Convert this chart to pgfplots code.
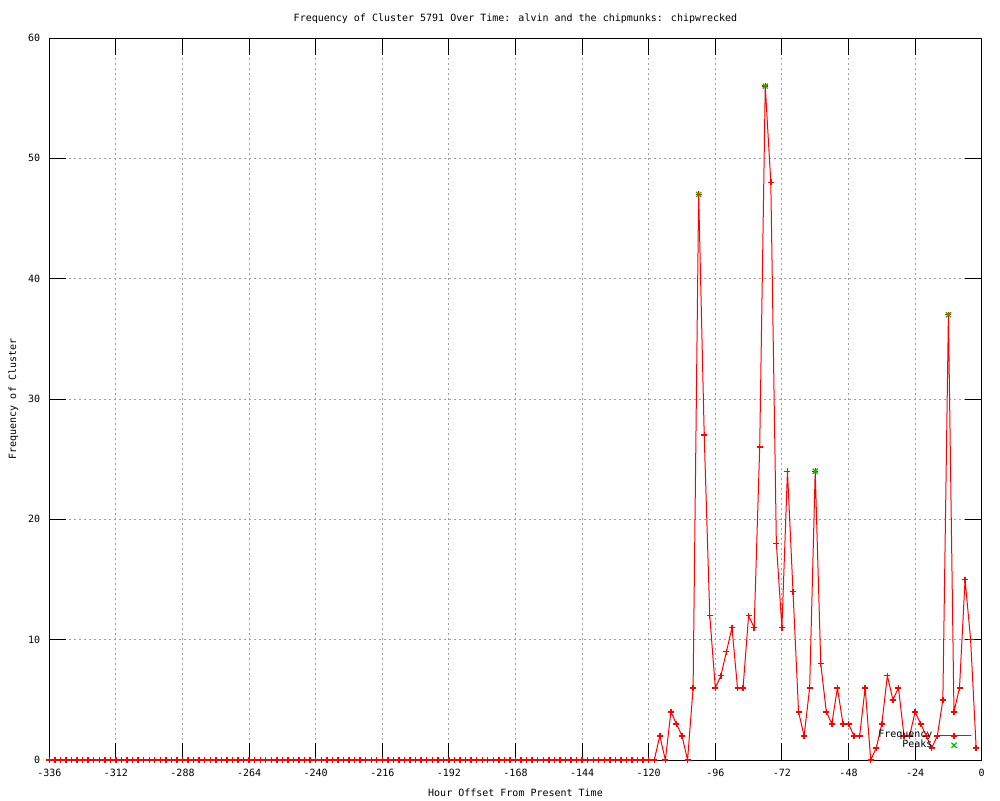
\documentclass[border=0pt]{standalone}
\usepackage{fontspec}
\setmainfont{DejaVu Sans Mono}
\usepackage{pgfplots}
\usepackage{pgfplotstable}
\pgfplotsset{compat=1.18}
\definecolor{gpred}{RGB}{255,0,0}
\definecolor{gpgreen}{RGB}{0,192,0}
\definecolor{gpgrid}{RGB}{160,160,160}

\pgfplotstableread{
x y
-336 0
-334 0
-332 0
-330 0
-328 0
-326 0
-324 0
-322 0
-320 0
-318 0
-316 0
-314 0
-312 0
-310 0
-308 0
-306 0
-304 0
-302 0
-300 0
-298 0
-296 0
-294 0
-292 0
-290 0
-288 0
-286 0
-284 0
-282 0
-280 0
-278 0
-276 0
-274 0
-272 0
-270 0
-268 0
-266 0
-264 0
-262 0
-260 0
-258 0
-256 0
-254 0
-252 0
-250 0
-248 0
-246 0
-244 0
-242 0
-240 0
-238 0
-236 0
-234 0
-232 0
-230 0
-228 0
-226 0
-224 0
-222 0
-220 0
-218 0
-216 0
-214 0
-212 0
-210 0
-208 0
-206 0
-204 0
-202 0
-200 0
-198 0
-196 0
-194 0
-192 0
-190 0
-188 0
-186 0
-184 0
-182 0
-180 0
-178 0
-176 0
-174 0
-172 0
-170 0
-168 0
-166 0
-164 0
-162 0
-160 0
-158 0
-156 0
-154 0
-152 0
-150 0
-148 0
-146 0
-144 0
-142 0
-140 0
-138 0
-136 0
-134 0
-132 0
-130 0
-128 0
-126 0
-124 0
-122 0
-120 0
-118 0
-116 2
-114 0
-112 4
-110 3
-108 2
-106 0
-104 6
-102 47
-100 27
-98 12
-96 6
-94 7
-92 9
-90 11
-88 6
-86 6
-84 12
-82 11
-80 26
-78 56
-76 48
-74 18
-72 11
-70 24
-68 14
-66 4
-64 2
-62 6
-60 24
-58 8
-56 4
-54 3
-52 6
-50 3
-48 3
-46 2
-44 2
-42 6
-40 0
-38 1
-36 3
-34 7
-32 5
-30 6
-28 2
-26 2
-24 4
-22 3
-20 2
-18 1
-16 2
-14 5
-12 37
-10 4
-8 6
-6 15
-4 10
-2 1
}\freqtable

\pgfplotstableread{
x y
-102 47
-78 56
-60 24
-12 37
}\peakstable

\begin{document}
\begin{tikzpicture}
\path[use as bounding box] (0,0) rectangle (500pt,400pt);
\begin{axis}[
  at={(24.65pt,20pt)}, anchor=south west,
  scale only axis,
  width=466.2pt, height=361pt,
  xmin=-336, xmax=0, ymin=0, ymax=60,
  xtick={-336,-312,...,0},
  ytick={0,10,...,60},
  grid=major,
  major grid style={gpgrid, line width=0.5pt, dash pattern=on 1pt off 1.5pt},
  tick align=inside,
  major tick length=8.3pt,
  tick style={black, line width=0.5pt},
  axis line style={black, line width=0.5pt},
  font=\fontsize{5}{6}\selectfont,
  /pgf/number format/assume math mode=true,
  /pgf/number format/.cd, fixed, precision=0, 1000 sep={},
  /pgfplots/.cd,
  xticklabel style={font=\fontsize{5}{6}\selectfont, yshift=-1pt},
  yticklabel style={font=\fontsize{5}{6}\selectfont, xshift=-1pt},
  title={Frequency of Cluster 5791 Over Time: alvin and the chipmunks: chipwrecked},
  title style={font=\fontsize{5}{6}\selectfont, at={(0.5,1)}, anchor=center, yshift=3.5pt},
  xlabel={Hour Offset From Present Time},
  xlabel style={font=\fontsize{5}{6}\selectfont, at={(0.5,0)}, anchor=center, yshift=-16.5pt},
  ylabel={Frequency of Cluster},
  ylabel style={font=\fontsize{5}{6}\selectfont, at={(-0.0386,0.5)}, anchor=center, rotate=0},
  legend style={at={(0.9896,0.007)}, anchor=south east, draw=none, fill=none,
    font=\fontsize{5}{6}\selectfont, inner sep=0pt, row sep=-4.5pt},
  legend cell align=right,
  legend plot pos=right,
]
\addplot[color=gpred, line width=0.5pt, mark=+, mark size=1.5pt, mark options={solid, draw=gpred, line width=0.7pt}] table[x=x,y=y] {\freqtable};
\addlegendentry{Frequency}
\addplot[only marks, color=gpgreen, mark=x, mark size=1.8pt, mark options={draw=gpgreen, line width=0.6pt}] table[x=x,y=y] {\peakstable};
\addlegendentry{Peaks}
\end{axis}
\end{tikzpicture}
\end{document}
